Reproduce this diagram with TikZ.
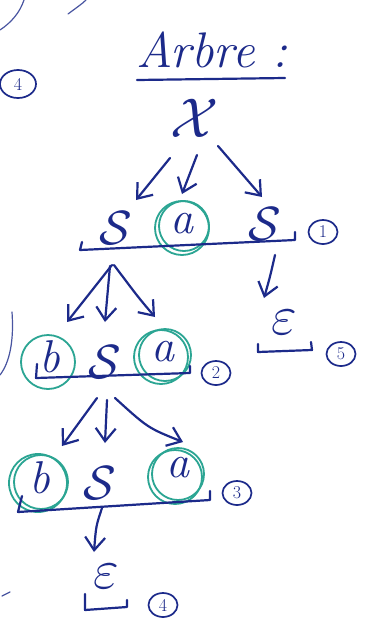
\RequirePackage{fix-cm}
\documentclass[tikz,border=0pt]{standalone}
\usepackage{fontspec}
\usetikzlibrary{arrows.meta,shapes.geometric}
\definecolor{ink}{HTML}{1C2A8A}
\definecolor{tealring}{HTML}{2BA593}
\begin{document}
\begin{tikzpicture}[x=1pt,y=-1pt,
  ink/.style={draw=ink, line width=2.2pt, line cap=round, line join=round},
  thinink/.style={draw=ink!80, line width=1.2pt, line cap=round},
  arr/.style={ink, -{Straight Barb[length=13pt,width=20pt,line width=2.2pt]}},
  sym/.style={text=ink, inner sep=1pt, font=\fontsize{48}{48}\selectfont},
  lower/.style={sym, font=\itshape\fontsize{46}{46}\selectfont},
  num/.style={draw=ink, line width=1.7pt, ellipse, minimum width=29pt, minimum height=24pt, inner sep=0pt, text=ink, font=\fontsize{18}{18}\selectfont},
  ring/.style={draw=tealring, line width=1.8pt, circle, minimum size=#1, inner sep=0pt},
  ring/.default=54pt
]
\useasboundingbox (0,0) rectangle (374,630);
\fill[white] (0,0) rectangle (374,630);

% stray marks
\draw[thinink] (0,30) .. controls (12,22) and (20,12) .. (24,0);
\draw[thinink] (68,14) .. controls (76,8) and (82,4) .. (86,0);
\draw[thinink] (12,312) .. controls (14,340) and (10,362) .. (0,375);
\draw[thinink] (2,596) -- (10,592);
\node[num, minimum width=36pt, minimum height=28pt] (stray4) at (18,84) {4};

% title
\node[text=ink, font=\itshape\fontsize{50}{50}\selectfont] (title) at (212,50) {Arbre :};
\coordinate (u1) at (137,80);
\coordinate (u2) at (285,78);
\draw[ink] (u1) -- (u2);

% root
\node[sym, font=\fontsize{56}{56}\selectfont] (X) at (195,118) {$\mathcal{X}$};

% row 1
\node[sym] (S1) at (116,228) {$\mathcal{S}$};
\node[lower] (a1) at (182,224) {a};
\node[sym] (S2) at (265,224) {$\mathcal{S}$};
\node[ring] (r1) at (182,228) {};
\node[ring=50pt] (r1b) at (184,226) {};
\draw[arr] ([shift={(-25,40)}]X.center) -- ([shift={(20,-28)}]S1.center);
\draw[arr] ([shift={(2,37)}]X.center) -- ([shift={(0,-30)}]a1.center);
\draw[arr] ([shift={(23,28)}]X.center) -- ([shift={(-3,-27)}]S2.center);
\coordinate (b1l) at (82,242);
\coordinate (b1a) at (80,250);
\coordinate (b1b) at (295,240);
\coordinate (b1r) at (295,232);
\draw[ink] (b1l) -- (b1a) -- (b1b) -- (b1r);
\node[num] (n1) at (323,232) {1};

% right branch
\node[sym, font=\fontsize{56}{56}\selectfont] (e1) at (284,322) {$\varepsilon$};
\draw[arr] ([shift={(10,31)}]S2.center) .. controls ([shift={(-14,-45)}]e1.center) .. ([shift={(-20,-24)}]e1.center);
\coordinate (b5l) at (258,344);
\coordinate (b5a) at (258,352);
\coordinate (b5b) at (312,350);
\coordinate (b5r) at (311,342);
\draw[ink] (b5l) -- (b5a) -- (b5b) -- (b5r);
\node[num] (n5) at (341,354) {5};

% row 2
\node[lower] (b2) at (50,357) {b};
\node[sym] (S3) at (105,362) {$\mathcal{S}$};
\node[lower] (a2) at (163,352) {a};
\node[ring] (r2) at (48,362) {};
\node[ring] (r2a) at (161,357) {};
\node[ring=52pt] (r2b) at (165,355) {};
\draw[arr] ([shift={(-4,37)}]S1.center) -- ([shift={(17,-35)}]b2.center);
\draw[arr] ([shift={(-6,38)}]S1.center) -- ([shift={(0,-40)}]S3.center);
\draw[arr] ([shift={(-2,37)}]S1.center) .. controls ([shift={(-25,-55)}]a2.center) .. ([shift={(-8,-35)}]a2.center);
\coordinate (b2l) at (37,364);
\coordinate (b2a) at (36,378);
\coordinate (b2b) at (190,373);
\coordinate (b2r) at (190,366);
\draw[ink] (b2l) -- (b2a) -- (b2b) -- (b2r);
\node[num] (n2) at (216,373) {2};

% row 3
\node[lower] (b3) at (40,478) {b};
\node[sym] (S4) at (100,483) {$\mathcal{S}$};
\node[lower] (a3) at (178,468) {a};
\node[ring=58pt] (r3) at (38,483) {};
\node[ring=54pt] (r3b) at (41,482) {};
\node[ring] (r3a) at (175,477) {};
\node[ring=52pt] (r3c) at (178,474) {};
\draw[arr] ([shift={(-8,36)}]S3.center) -- ([shift={(22,-32)}]b3.center);
\draw[arr] ([shift={(2,38)}]S3.center) -- ([shift={(5,-40)}]S4.center);
\draw[arr] ([shift={(10,36)}]S3.center) .. controls ([shift={(-30,-40)}]a3.center) .. ([shift={(5,-26)}]a3.center);
\coordinate (b3l) at (22,496);
\coordinate (b3a) at (18,512);
\coordinate (b3b) at (210,500);
\coordinate (b3r) at (210,491);
\draw[ink] (b3l) -- (b3a) -- (b3b) -- (b3r);
\node[num] (n3) at (237,493) {3};

% bottom branch
\node[sym, font=\fontsize{56}{56}\selectfont] (e2) at (106,576) {$\varepsilon$};
\draw[arr] ([shift={(2,25)}]S4.center) .. controls ([shift={(-10,-50)}]e2.center) .. ([shift={(-12,-24)}]e2.center);
\coordinate (b4l) at (85,594);
\coordinate (b4a) at (85,610);
\coordinate (b4b) at (127,607);
\coordinate (b4r) at (127,600);
\draw[ink] (b4l) -- (b4a) -- (b4b) -- (b4r);
\node[num] (n4) at (163,605) {4};
\end{tikzpicture}
\end{document}
